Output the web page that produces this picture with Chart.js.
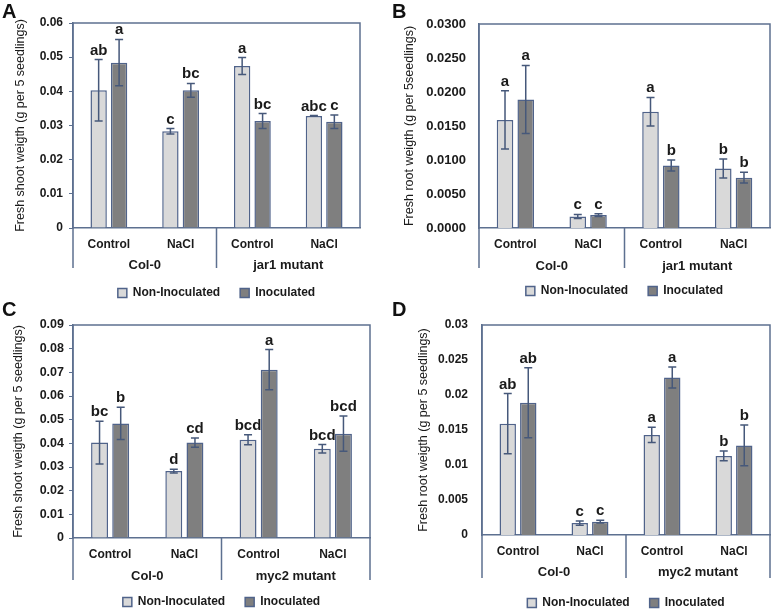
<!DOCTYPE html>
<html><head><meta charset="utf-8">
<script src="https://cdn.jsdelivr.net/npm/chart.js@4/dist/chart.umd.min.js"></script>
<style>
body{margin:0;background:#fff;width:777px;height:610px;position:relative;overflow:hidden;font-family:'Liberation Sans',Arial,sans-serif}
canvas{position:absolute}
.lt{position:absolute;font-weight:bold;font-size:20px;line-height:20px;color:#111}
</style></head><body>
<canvas id="cA" width="390" height="310" style="left:0;top:0"></canvas>
<canvas id="cB" width="387" height="310" style="left:390px;top:0"></canvas>
<canvas id="cC" width="390" height="320" style="left:0;top:300px"></canvas>
<canvas id="cD" width="387" height="320" style="left:390px;top:300px"></canvas>
<div class="lt" style="left:2px;top:1px">A</div>
<div class="lt" style="left:392px;top:1px">B</div>
<div class="lt" style="left:2px;top:299px">C</div>
<div class="lt" style="left:392px;top:299px">D</div>
<script>
// ---- data ----
const subCategories = ['Control', 'NaCl', 'Control', 'NaCl'];
const groupsJar1 = ['Col-0', 'jar1 mutant'];
const groupsMyc2 = ['Col-0', 'myc2 mutant'];
const seriesNames = ['Non-Inoculated', 'Inoculated'];

// A: fresh shoot weight, jar1
const shootA_non = [0.0403, 0.0283, 0.0474, 0.0328];
const shootA_ino = [0.0484, 0.0403, 0.0313, 0.0311];
const shootA_nonErr = [0.0090, 0.0008, 0.0025, 0.0001];
const shootA_inoErr = [0.0068, 0.0020, 0.0022, 0.0020];
const shootA_nonLet = ['ab', 'c', 'a', 'abc'];
const shootA_inoLet = ['a', 'bc', 'bc', 'c'];

// B: fresh root weight, jar1
const rootB_non = [0.0159, 0.0017, 0.0171, 0.00875];
const rootB_ino = [0.0189, 0.0019, 0.0092, 0.0074];
const rootB_nonErr = [0.0043, 0.0003, 0.0021, 0.0014];
const rootB_inoErr = [0.0050, 0.0002, 0.0008, 0.0008];
const rootB_nonLet = ['a', 'c', 'a', 'b'];
const rootB_inoLet = ['a', 'c', 'b', 'b'];

// C: fresh shoot weight, myc2
const shootC_non = [0.0403, 0.0283, 0.0415, 0.0377];
const shootC_ino = [0.0484, 0.0403, 0.0711, 0.0441];
const shootC_nonErr = [0.0090, 0.0008, 0.0021, 0.0018];
const shootC_inoErr = [0.0068, 0.0020, 0.0085, 0.0074];
const shootC_nonLet = ['bc', 'd', 'bcd', 'bcd'];
const shootC_inoLet = ['b', 'cd', 'a', 'bcd'];

// D: fresh root weight, myc2
const rootD_non = [0.0159, 0.0017, 0.0143, 0.0113];
const rootD_ino = [0.0189, 0.0019, 0.0225, 0.0128];
const rootD_nonErr = [0.0043, 0.0003, 0.0011, 0.0007];
const rootD_inoErr = [0.0050, 0.0002, 0.0015, 0.0029];
const rootD_nonLet = ['ab', 'c', 'a', 'b'];
const rootD_inoLet = ['ab', 'c', 'a', 'b'];

// ---- style ----
const FONT = "'Liberation Sans', Arial, sans-serif";
const TXT = '#1a1a1a';
const FRAME = '#5d7090';
const BARB = '#50638a';
const ERR = '#46587a';
const LIGHT = '#d9d9d9';
const DARK = '#7f7f7f';

const annot = {
  id: 'annot',
  afterDatasetsDraw(chart, args, o) {
    const ctx = chart.ctx, ys = chart.scales.y, xs = chart.scales.x, a = chart.chartArea;
    ctx.save();
    chart.data.datasets.forEach((ds, di) => {
      const meta = chart.getDatasetMeta(di);
      meta.data.forEach((bar, i) => {
        const v = ds.data[i], e = o.errors[di][i];
        const yt = ys.getPixelForValue(v + e), yb = ys.getPixelForValue(v - e);
        ctx.strokeStyle = ERR; ctx.lineWidth = 1.5;
        ctx.beginPath();
        ctx.moveTo(bar.x, yt); ctx.lineTo(bar.x, yb);
        ctx.moveTo(bar.x - 4, yt); ctx.lineTo(bar.x + 4, yt);
        ctx.moveTo(bar.x - 4, yb); ctx.lineTo(bar.x + 4, yb);
        ctx.stroke();
        ctx.fillStyle = TXT; ctx.font = 'bold 15px ' + FONT;
        ctx.textAlign = 'center'; ctx.textBaseline = 'alphabetic';
        ctx.fillText(o.letters[di][i], bar.x, yt - 5);
      });
    });
    const bottom = a.bottom + o.drop;
    ctx.strokeStyle = FRAME; ctx.lineWidth = 1.5;
    ctx.beginPath();
    ctx.moveTo(a.left, bottom); ctx.lineTo(a.left, a.top); ctx.lineTo(a.right, a.top);
    ctx.lineTo(a.right, o.rightDrop ? bottom : a.bottom);
    const mid = (xs.getPixelForValue(1) + xs.getPixelForValue(2)) / 2;
    ctx.moveTo(mid, a.bottom); ctx.lineTo(mid, bottom);
    ctx.stroke();
    ctx.fillStyle = TXT; ctx.font = 'bold 13px ' + FONT;
    ctx.textAlign = 'center'; ctx.textBaseline = 'middle';
    o.groups.forEach((g, gi) => {
      const cx = (xs.getPixelForValue(gi * 2) + xs.getPixelForValue(gi * 2 + 1)) / 2;
      ctx.fillText(g, cx, a.bottom + o.groupY);
    });
    ctx.restore();
  }
};

function makeChart(id, p) {
  new Chart(document.getElementById(id), {
    type: 'bar',
    data: {
      labels: subCategories,
      datasets: [
        { label: seriesNames[0], data: p.non, backgroundColor: LIGHT, borderColor: BARB, borderWidth: 1.5,
          categoryPercentage: 0.57, barPercentage: 0.8 },
        { label: seriesNames[1], data: p.ino, backgroundColor: DARK, borderColor: BARB, borderWidth: 1.5,
          categoryPercentage: 0.57, barPercentage: 0.8 }
      ]
    },
    options: {
      responsive: false, animation: false, devicePixelRatio: 1,
      layout: { padding: { top: p.top, right: p.right, left: 0, bottom: p.pb } },
      plugins: {
        tooltip: { enabled: false },
        legend: {
          position: 'bottom', fullSize: false,
          labels: { boxWidth: 9, boxHeight: 9, padding: 20, color: TXT,
                    font: { family: FONT, size: 12, weight: 'bold' } }
        },
        annot: { errors: [p.nonErr, p.inoErr], letters: [p.nonLet, p.inoLet], groups: p.groups,
                 drop: p.drop, groupY: p.groupY, rightDrop: p.rightDrop }
      },
      scales: {
        x: {
          grid: { display: false },
          border: { display: true, color: FRAME, width: 1.5 },
          ticks: { color: TXT, padding: 1, font: { family: FONT, size: 12, weight: 'bold' }, maxRotation: 0 },
          afterFit: s => { s.height = p.hx; }
        },
        y: {
          min: 0, max: p.max,
          grid: { display: p.yTicks, drawOnChartArea: false, tickLength: 4, color: FRAME, lineWidth: 1 },
          border: { display: true, color: FRAME, width: 1.5 },
          ticks: { stepSize: p.step, color: TXT, padding: p.tickPad,
                   font: { family: FONT, size: p.tickSize, weight: 'bold' },
                   callback: v => p.fmt(v) },
          title: { display: true, text: p.title, color: TXT, font: { family: FONT, size: 12.5 },
                   padding: { top: p.titlePad, bottom: 0 } },
          afterFit: s => { s.width = p.yw; }
        }
      }
    },
    plugins: [annot]
  });
}

makeChart('cA', {
  non: shootA_non, ino: shootA_ino, nonErr: shootA_nonErr, inoErr: shootA_inoErr,
  nonLet: shootA_nonLet, inoLet: shootA_inoLet, groups: groupsJar1,
  max: 0.06, step: 0.01, fmt: v => String(Number(v.toFixed(2))),
  title: 'Fresh shoot weigth (g per 5 seedlings)', titlePad: 13, tickSize: 12,
  top: 23, right: 30, pb: 1, hx: 39, yw: 73, yTicks: true, tickPad: 6,
  drop: 40, groupY: 37, rightDrop: false
});
makeChart('cB', {
  non: rootB_non, ino: rootB_ino, nonErr: rootB_nonErr, inoErr: rootB_inoErr,
  nonLet: rootB_nonLet, inoLet: rootB_inoLet, groups: groupsJar1,
  max: 0.03, step: 0.005, fmt: v => v.toFixed(4),
  title: 'Fresh root weigth (g per 5seedlings)', titlePad: 12, tickSize: 13,
  top: 24, right: 7, pb: 3, hx: 37, yw: 89, yTicks: false, tickPad: 9,
  drop: 40, groupY: 38, rightDrop: false
});
makeChart('cC', {
  non: shootC_non, ino: shootC_ino, nonErr: shootC_nonErr, inoErr: shootC_inoErr,
  nonLet: shootC_nonLet, inoLet: shootC_inoLet, groups: groupsMyc2,
  max: 0.09, step: 0.01, fmt: v => String(Number(v.toFixed(2))),
  title: 'Fresh shoot weigth (g per 5 seedlings)', titlePad: 11, tickSize: 12.5,
  top: 25, right: 20, pb: 2, hx: 38, yw: 73, yTicks: true, tickPad: 5,
  drop: 42, groupY: 38, rightDrop: true
});
makeChart('cD', {
  non: rootD_non, ino: rootD_ino, nonErr: rootD_nonErr, inoErr: rootD_inoErr,
  nonLet: rootD_nonLet, inoLet: rootD_inoLet, groups: groupsMyc2,
  max: 0.03, step: 0.005, fmt: v => String(Number(v.toFixed(3))),
  title: 'Fresh root weigth (g per 5 seedlings)', titlePad: 26, tickSize: 12,
  top: 25, right: 7, pb: 1, hx: 42, yw: 92, yTicks: false, tickPad: 10,
  drop: 43, groupY: 37, rightDrop: true
});
</script>
</body></html>
